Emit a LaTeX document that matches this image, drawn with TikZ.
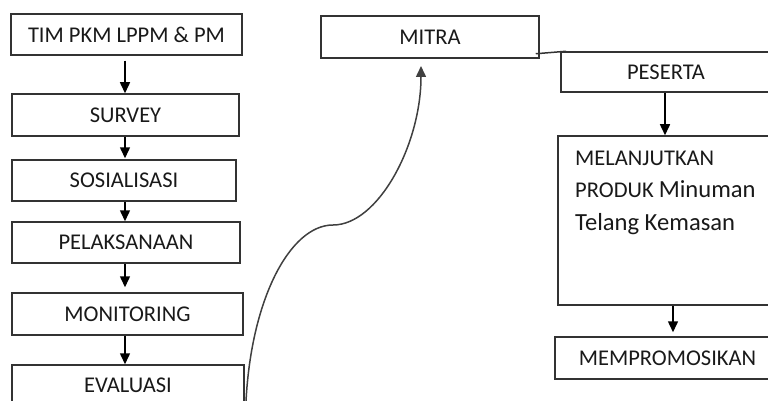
\documentclass[tikz,border=0pt]{standalone}
\usepackage{fontspec}
\setmainfont{Carlito}
\usetikzlibrary{arrows.meta,calc}
\tikzset{
  box/.style={draw=black!80, line width=1.5pt, rectangle, inner sep=0pt, font=\fontsize{22.5}{26}\selectfont, text=black!90},
  arr/.style={draw=black, line width=1.5pt, -{Triangle[length=11pt,width=10pt]}},
  plain/.style={draw=black!80, line width=1.5pt},
  txt/.style={inner sep=0pt, text=black!90},
}
\begin{document}
\begin{tikzpicture}[x=1pt,y=-1pt]
\useasboundingbox (0,0) rectangle (768,401);
\clip (0,0) rectangle (768,401);
% left column
\node[box, minimum width=231pt, minimum height=41pt] (tim) at (126.5,34.5) {TIM PKM LPPM \& PM};
\node[box, minimum width=227pt, minimum height=42pt] (survey) at (125.5,115) {SURVEY};
\node[box, minimum width=224pt, minimum height=41pt] (sos) at (124,180.5) {SOSIALISASI};
\node[box, minimum width=228pt, minimum height=41pt] (pel) at (126,242.5) {PELAKSANAAN};
\node[box, minimum width=231pt, minimum height=42pt] (mon) at (127.5,314) {MONITORING};
\node[box, minimum width=232pt, minimum height=41pt] (eval) at (128,385.5) {EVALUASI};
% right side
\node[box, minimum width=218pt, minimum height=42pt] (mitra) at (430,37) {MITRA};
\node[box, minimum width=210pt, minimum height=40pt] (peserta) at (666,72) {PESERTA};
\node[box, minimum width=250pt, minimum height=169pt] (melan) at (683,220.5) {};
\node[box, minimum width=225pt, minimum height=42pt] (mem) at (667.5,358) {MEMPROMOSIKAN};
% text inside melan
\node[txt, anchor=base west, font=\fontsize{22.5}{26}\selectfont] (t1) at (575,165) {MELANJUTKAN};
\node[txt, anchor=base west] (t2) at (575,197.5) {\fontsize{22.5}{26}\selectfont PRODUK \fontsize{24.6}{28}\selectfont Minuman};
\node[txt, anchor=base west, font=\fontsize{24.6}{28}\selectfont] (t3) at (575,230) {Telang Kemasan};
% helper coordinates
\coordinate (ax) at (125,0);
\coordinate (bx) at (673,0);
% left arrows
\draw[arr] ([yshift=-5pt]tim.south -| ax) -- (survey.north -| ax);
\draw[arr] (survey.south -| ax) -- ([yshift=1pt]sos.north -| ax);
\draw[arr] (sos.south -| ax) -- (pel.north -| ax);
\draw[arr] (pel.south -| ax) -- ([yshift=5pt]mon.north -| ax);
\draw[arr] (mon.south -| ax) -- (eval.north -| ax);
% right arrows
\draw[arr] (peserta.south -| 665,0) -- (melan.north -| 665,0);
\draw[arr] (melan.south -| bx) -- ([yshift=4pt]mem.north -| bx);
% mitra - peserta line
\draw[plain] ($(mitra.south east)+(-4,-5)$) -- ($(peserta.north west)+(6,0)$);
% curved connector evaluasi -> mitra
\coordinate (c0) at ($(eval.south east)+(1,0)$);
\coordinate (tip) at (421,66);
\draw[arr, draw=black!75] (c0) .. controls (250,300) and (290,225) .. (333,225)
   .. controls (378,225) and (421,145) .. (tip);
\end{tikzpicture}
\end{document}
